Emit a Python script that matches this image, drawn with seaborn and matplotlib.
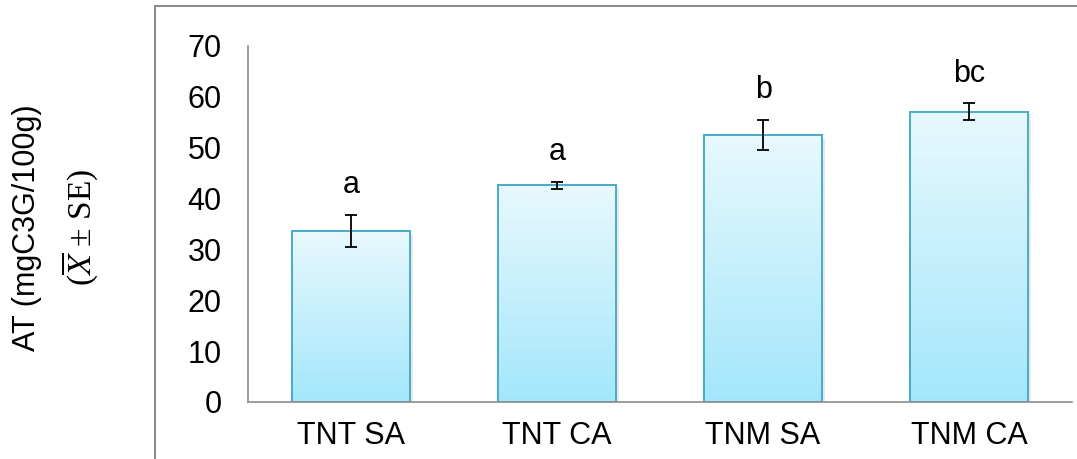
import numpy as np
import matplotlib
matplotlib.use("Agg")
import matplotlib.pyplot as plt
import matplotlib.patheffects as pe
from matplotlib.lines import Line2D
from matplotlib.patches import Rectangle
import seaborn as sns

# ── data ──────────────────────────────────────────────────────
groups  = ["TNT SA", "TNT CA", "TNM SA", "TNM CA"]
means   = [33.6, 42.6, 52.5, 57.1]
se      = [3.2, 0.7, 2.9, 1.6]
letters = ["a", "a", "b", "bc"]

sns.set_theme(style="white")
plt.rcParams["font.family"] = ["Liberation Sans", "DejaVu Sans"]
plt.rcParams["mathtext.fontset"] = "stix"
plt.rcParams["text.color"] = "black"
plt.rcParams["xtick.color"] = "black"
plt.rcParams["ytick.color"] = "black"

top_col = np.array([0.91, 0.975, 0.995])
bot_col = np.array([0.64, 0.905, 0.985])
edge_col = "#4bacc6"
axis_col = "#8c8c8c"

fig = plt.figure(figsize=(10.77, 4.59), dpi=100)
ax = fig.add_axes([0.2303, 0.1242, 0.7651, 0.7756])

sns.barplot(x=groups, y=means, color=bot_col, saturation=1, width=0.57,
            edgecolor=edge_col, linewidth=1.4, errorbar=None, ax=ax)

# gradient fill + light shadow on each bar
grad = np.linspace(0, 1, 256)[:, None, None]
grad_img = top_col * (1 - grad) + bot_col * grad
for p in ax.patches:
    p.set_path_effects([pe.SimplePatchShadow(offset=(2, -2), alpha=0.18, shadow_rgbFace="gray"),
                        pe.Normal()])
    x0, y0 = p.get_x(), p.get_y()
    w, h = p.get_width(), p.get_height()
    im = ax.imshow(grad_img, extent=[x0, x0 + w, y0, y0 + h], origin="upper",
                   aspect="auto", zorder=p.get_zorder() + 0.1, interpolation="bicubic")
    im.set_clip_path(p)
    ax.add_patch(Rectangle((x0, y0), w, h, fill=False, edgecolor=edge_col,
                           linewidth=1.4, zorder=p.get_zorder() + 0.2))

xs = np.arange(len(groups))
ax.errorbar(xs, means, yerr=se, fmt="none", ecolor="black", elinewidth=1.3,
            capsize=4.3, capthick=1.3, zorder=5)

for x, m, s, lab in zip(xs, means, se, letters):
    ax.text(x, m + s + 2.9, lab, ha="center", va="bottom", fontsize=22, color="black")

ax.set_xlim(-0.5, 3.5)
ax.set_ylim(0, 70)
ax.set_yticks(range(0, 71, 10))
ax.tick_params(axis="y", length=0, pad=19, labelsize=22, labelcolor="black")
ax.tick_params(axis="x", length=0, pad=14, labelsize=22, labelcolor="black")
ax.set_xlabel("")
ax.set_ylabel("")
sns.despine(ax=ax, top=True, right=True)
for side in ["left", "bottom"]:
    ax.spines[side].set_color(axis_col)
    ax.spines[side].set_linewidth(1.2)

# y label, two lines in different fonts
fig.text(27 / 1077, 1 - 228 / 459, "AT (mgC3G/100g)", rotation=90,
         ha="center", va="center", fontsize=22, color="black")
fig.text(80 / 1077, 1 - 227 / 459, r"($\overline{X}$ ± SE)", rotation=90,
         ha="center", va="center", fontsize=24, family="Liberation Serif", color="black")

# outer chart frame (cut by the image edge)
fx, fy = 155 / 1077, 1 - 6 / 459
fig.add_artist(Line2D([fx, fx], [0, fy], color=axis_col, linewidth=1.5))
fig.add_artist(Line2D([fx, 1], [fy, fy], color=axis_col, linewidth=1.5))

fig.savefig("out.png", dpi=100)
